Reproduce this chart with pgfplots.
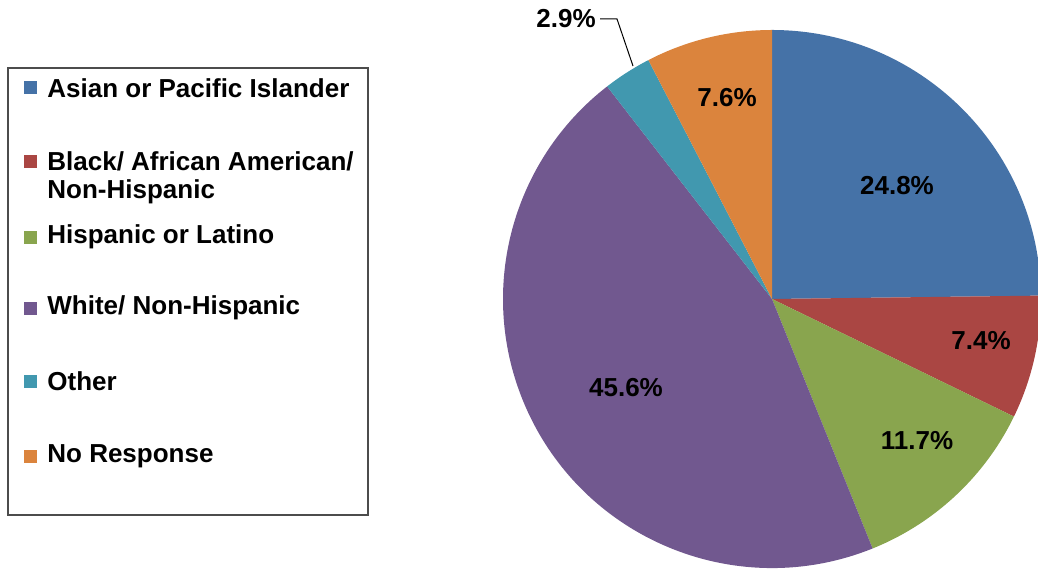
\documentclass[border=0pt]{standalone}
\usepackage{pgfplots}
\pgfplotsset{compat=1.18}
\usepackage{fontspec}
\setmainfont{Liberation Sans}
\definecolor{cAsian}{HTML}{4572A7}
\definecolor{cBlack}{HTML}{AA4643}
\definecolor{cHisp}{HTML}{89A54E}
\definecolor{cWhite}{HTML}{71588F}
\definecolor{cOther}{HTML}{4198AF}
\definecolor{cNoResp}{HTML}{DB843D}
\begin{document}
\begin{tikzpicture}[font=\fontsize{13}{14}\selectfont\bfseries]
\begin{axis}[
  x=0.5pt, y=0.5pt,
  xmin=0, xmax=1038, ymin=0, ymax=571,
  enlargelimits=false,
  hide axis,
  clip=true,
]
% pie centre (772,272) radius 269 (data units = 0.5pt)
% values: Asian 24.8, Black 7.4, Hispanic 11.7, White 45.6, Other 2.9, No Response 7.6
\fill[cAsian]   (axis cs:772,272) -- ++(90:134.5pt) arc[start angle=90, end angle={90-3.6*24.8}, radius=134.5pt] -- cycle;
\fill[cBlack]   (axis cs:772,272) -- ++({90-3.6*24.8}:134.5pt) arc[start angle={90-3.6*24.8}, end angle={90-3.6*32.2}, radius=134.5pt] -- cycle;
\fill[cHisp]    (axis cs:772,272) -- ++({90-3.6*32.2}:134.5pt) arc[start angle={90-3.6*32.2}, end angle={90-3.6*43.9}, radius=134.5pt] -- cycle;
\fill[cWhite]   (axis cs:772,272) -- ++({90-3.6*43.9}:134.5pt) arc[start angle={90-3.6*43.9}, end angle={90-3.6*89.5}, radius=134.5pt] -- cycle;
\fill[cOther]   (axis cs:772,272) -- ++({90-3.6*89.5}:134.5pt) arc[start angle={90-3.6*89.5}, end angle={90-3.6*92.4}, radius=134.5pt] -- cycle;
\fill[cNoResp]  (axis cs:772,272) -- ++({90-3.6*92.4}:134.5pt) arc[start angle={90-3.6*92.4}, end angle={90-3.6*100}, radius=134.5pt] -- cycle;
% slice labels
\node at (axis cs:897,385) {24.8\%};
\node at (axis cs:981,230) {7.4\%};
\node at (axis cs:917,130) {11.7\%};
\node at (axis cs:626,183) {45.6\%};
\node at (axis cs:727,473) {7.6\%};
\node at (axis cs:566,552) {2.9\%};
\draw[black, line width=0.5pt] (axis cs:600,552) -- (axis cs:617,552) -- (axis cs:633,505);
% legend
\draw[black!70, line width=0.6pt] (axis cs:8,503) rectangle (axis cs:368,56);
\fill[cAsian]  (axis cs:24,490) rectangle (axis cs:37,477);
\node[anchor=west, inner sep=0pt] at (axis cs:47,483) {Asian or Pacific Islander};
\fill[cBlack]  (axis cs:24,416) rectangle (axis cs:37,403);
\node[anchor=north west, inner sep=0pt, align=left] at (axis cs:47,420) {Black/ African American/\\Non-Hispanic};
\fill[cHisp]   (axis cs:24,340) rectangle (axis cs:37,327);
\node[anchor=west, inner sep=0pt] at (axis cs:47,334) {Hispanic or Latino};
\fill[cWhite]  (axis cs:24,269) rectangle (axis cs:37,256);
\node[anchor=west, inner sep=0pt] at (axis cs:47,263) {White/ Non-Hispanic};
\fill[cOther]  (axis cs:24,196) rectangle (axis cs:37,183);
\node[anchor=west, inner sep=0pt] at (axis cs:47,190) {Other};
\fill[cNoResp] (axis cs:24,121) rectangle (axis cs:37,108);
\node[anchor=west, inner sep=0pt] at (axis cs:47,115) {No Response};
\coordinate (ll) at (axis cs:0,0);
\coordinate (ur) at (axis cs:1038,571);
\end{axis}
\pgfresetboundingbox
\useasboundingbox (ll) rectangle (ur);
\end{tikzpicture}
\end{document}
